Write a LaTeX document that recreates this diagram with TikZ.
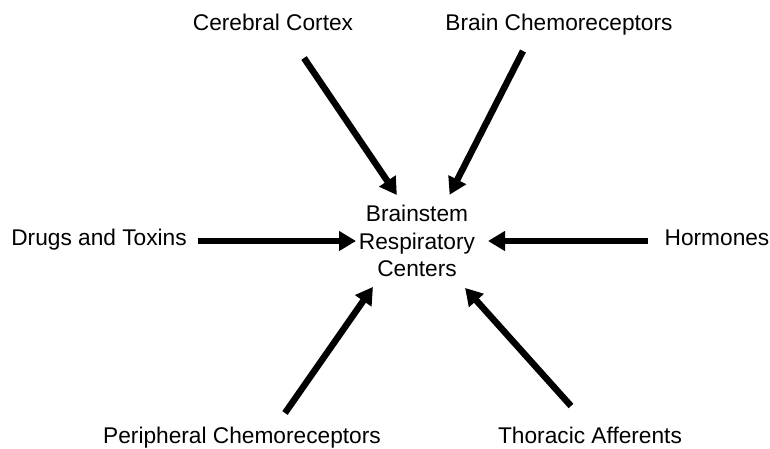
\documentclass[tikz,border=0pt]{standalone}
\usepackage{fontspec}
\setmainfont{Liberation Sans}
\usetikzlibrary{arrows.meta}

\begin{document}
\begin{tikzpicture}[x=1pt, y=-1pt, >={Triangle[length=17pt, width=19pt]}, line width=6.5pt,
        every node/.style={font=\fontsize{22.7}{27.5}\selectfont, inner sep=0pt}]
        \useasboundingbox (0, 0) rectangle (770, 449);

        % Nodes
        \node[align=center] (hub) at (417, 241) {Brainstem\\Respiratory\\Centers};
        \node[anchor=base] (cortex) at (273, 31) {Cerebral Cortex};
        \node[anchor=base] (brainchemo) at (559, 31) {Brain Chemoreceptors};
        \node[anchor=base] (drugs) at (99, 245) {Drugs and Toxins};
        \node[anchor=base] (hormones) at (717, 245) {Hormones};
        \node[anchor=base] (periph) at (242, 443) {Peripheral Chemoreceptors};
        \node[anchor=base] (thoracic) at (590, 443) {Thoracic Afferents};

        % Arrow tails
        \coordinate (cortex-tail) at (304, 58);
        \coordinate (brainchemo-tail) at (523, 51);
        \coordinate (drugs-tail) at (198, 241);
        \coordinate (hormones-tail) at (648, 241);
        \coordinate (periph-tail) at (285, 413);
        \coordinate (thoracic-tail) at (571, 406);

        % Directed edges
        \draw[->, shorten >=55.5pt] (cortex-tail) -- ([xshift=11pt]hub.center);
        \draw[->, shorten >=51.9pt] (brainchemo-tail) -- ([xshift=9pt]hub.center);
        \draw[->, shorten >=61pt] (drugs-tail) -- (hub.center);
        \draw[->, shorten >=71pt] (hormones-tail) -- (hub.center);
        \draw[->, shorten >=56pt] (periph-tail) -- ([xshift=-12pt]hub.center);
        \draw[->, shorten >=63pt] (thoracic-tail) -- ([xshift=6pt]hub.center);
    \end{tikzpicture}
\end{document}
